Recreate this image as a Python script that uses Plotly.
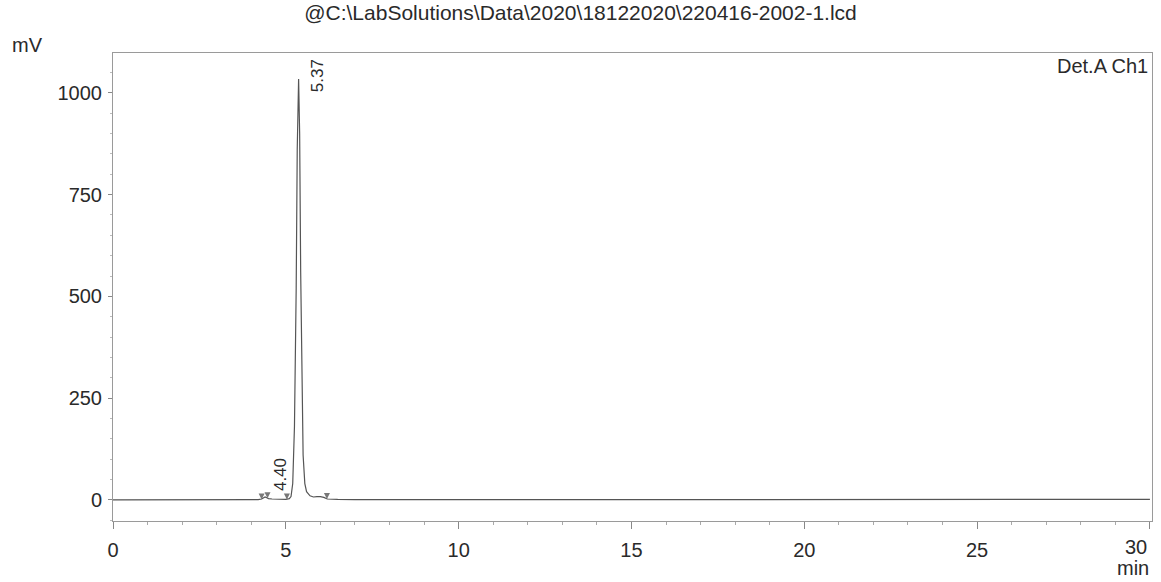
import plotly.graph_objects as go

# chromatogram trace (time in min, signal in mV)
time_min = [0.0, 1.0, 2.0, 3.0, 4.0, 4.2, 4.3, 4.35, 4.4, 4.45, 4.5, 4.6, 4.8, 5.0,
            5.1, 5.15, 5.2, 5.25, 5.3, 5.33, 5.37, 5.4, 5.43, 5.47, 5.5, 5.55, 5.6,
            5.7, 5.8, 5.9, 6.0, 6.1, 6.2, 6.5, 7.0, 10.0, 15.0, 20.0, 25.0, 30.0]
signal_mv = [0, 0, 0, 0, 0, 0.5, 2, 5, 7, 5, 3, 2, 1.5, 1,
             3, 8, 40, 180, 520, 860, 1034, 900, 560, 250, 110, 40, 20,
             10, 7, 8, 8, 6, 2, 1, 0.5, 0.5, 0.5, 0.5, 1, 1]

# peak integration marks (start / end of peaks)
mark_times = [4.30, 4.47, 5.03, 6.19]
mark_values = [1, 4, 1, 2]

# labelled retention times
peak_times = [4.40, 5.37]
peak_values = [7, 1034]
peak_labels = ["4.40", "5.37"]

# axis ticks
x_ticks = [0, 5, 10, 15, 20, 25, 30]
x_ticklabels = ["0", "5", "10", "15", "20", "25", ""]  # "30" drawn separately, it sits left of its tick
y_ticks = [0, 250, 500, 750, 1000]

ink = "#2a2a2a"
font_family = "Liberation Sans, Arial, sans-serif"

fig = go.Figure()

fig.add_trace(go.Scatter(
    x=time_min,
    y=signal_mv,
    mode="lines",
    line=dict(color="#555555", width=1.2),
    showlegend=False,
    hoverinfo="skip",
))

fig.add_trace(go.Scatter(
    x=mark_times,
    y=mark_values,
    mode="markers",
    marker=dict(symbol="arrow-down", size=6, color="#777777"),
    showlegend=False,
    hoverinfo="skip",
))

# retention time labels, rotated, beside each peak top
# small peak: label sits just above the apex
fig.add_annotation(
    x=peak_times[0], y=peak_values[0], text=peak_labels[0], textangle=-90,
    showarrow=False, xanchor="left", yanchor="bottom", xshift=4, yshift=4,
    font=dict(size=17, color=ink),
)
# main peak: label centred on the apex (no room above it)
fig.add_annotation(
    x=peak_times[1], y=peak_values[1], text=peak_labels[1], textangle=-90,
    showarrow=False, xanchor="left", yanchor="middle", xshift=7, yshift=3,
    font=dict(size=17, color=ink),
)

# last x tick label, right-aligned on the axis end
fig.add_annotation(
    x=x_ticks[-1], y=0, xref="x", yref="paper", xshift=-1, yshift=-26,
    text=str(x_ticks[-1]), showarrow=False, xanchor="right", yanchor="middle",
    font=dict(size=20, color=ink),
)
fig.add_annotation(
    x=1.0, y=0, xref="paper", yref="paper", xshift=-1, yshift=-47,
    text="min", showarrow=False, xanchor="right", yanchor="middle",
    font=dict(size=20, color=ink),
)
fig.add_annotation(
    x=0, y=1.0, xref="paper", yref="paper", xshift=-103, yshift=8,
    text="mV", showarrow=False, xanchor="left", yanchor="middle",
    font=dict(size=20, color=ink),
)
fig.add_annotation(
    x=1.0, y=1.0, xref="paper", yref="paper", xshift=-2, yshift=-13,
    text="Det.A Ch1", showarrow=False, xanchor="right", yanchor="middle",
    font=dict(size=20, color=ink),
)

fig.update_layout(
    width=1161,
    height=582,
    margin=dict(l=113, r=9, t=53, b=61),
    paper_bgcolor="white",
    plot_bgcolor="white",
    font=dict(family=font_family, size=20, color=ink),
    title=dict(
        text="@C:\\LabSolutions\\Data\\2020\\18122020\\220416-2002-1.lcd",
        xref="container", yref="container",
        x=0.5, xanchor="center",
        y=0.979, yanchor="middle",
        font=dict(size=21, color=ink),
    ),
    xaxis=dict(
        range=[0, 30.06],
        tickvals=x_ticks,
        ticktext=x_ticklabels,
        ticks="outside", ticklen=7, tickcolor="#888888",
        ticklabelstandoff=4,
        showgrid=False, zeroline=False,
        showline=True, linecolor="#9a9a9a", linewidth=1,
        mirror=True, automargin=False,
        minor=dict(dtick=1, ticks="outside", ticklen=3, tickcolor="#aaaaaa"),
    ),
    yaxis=dict(
        range=[-52, 1098],
        tickvals=y_ticks,
        ticks="outside", ticklen=4, tickcolor="#888888",
        ticklabelstandoff=2,
        showgrid=False, zeroline=False,
        showline=True, linecolor="#9a9a9a", linewidth=1,
        mirror=True, automargin=False,
        minor=dict(dtick=50, ticks="outside", ticklen=2, tickcolor="#bbbbbb"),
    ),
)

# the page body has a default 8px margin; drop it so the figure fills the window exactly
fig.write_html(
    "out.html",
    config={"displayModeBar": False},
    post_script="document.body.style.margin='0';",
)
